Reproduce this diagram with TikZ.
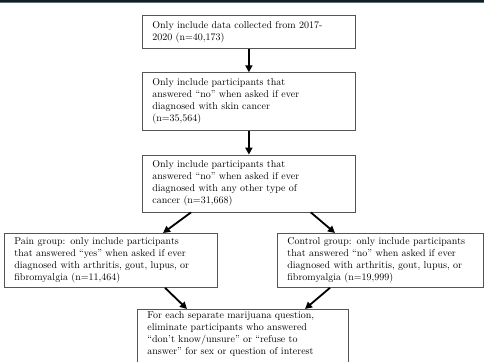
\documentclass[tikz,border=0pt]{standalone}
\usepackage{xcolor}
\definecolor{boxline}{RGB}{85,85,85}
\definecolor{topbar}{RGB}{18,30,36}
\definecolor{topedge}{RGB}{70,118,132}
\usepackage{tikz}
\usetikzlibrary{arrows.meta, positioning}

\begin{document}
\begin{tikzpicture}[
  x=1pt, y=-1pt,
  node distance=23.5pt,
  box/.style={
    draw=boxline, line width=0.8pt,
    minimum width=213pt, text width=193pt,
    inner xsep=10pt, inner ysep=4pt,
    font=\fontsize{10}{12}\selectfont, align=left,
  },
  arr/.style={-{Triangle[length=7pt,width=7pt]}, line width=1.8pt},
]
\useasboundingbox (0,0) rectangle (484,361);
\fill[topbar] (0,0) rectangle (484,2.4);
\draw[topedge, line width=0.8pt] (0,2.6) -- (484,2.6);

\node[box, anchor=north west, minimum height=33pt] (data) at (142,15)
  {Only include data collected from 2017-\\2020 (n=40,173)};
\node[box, minimum height=58pt] (skin) [below=of data]
  {Only include participants that\\answered “no” when asked if ever\\diagnosed with skin cancer\\(n=35,564)};
\node[box, minimum height=57pt] (cancer) [below=of skin]
  {Only include participants that\\answered “no” when asked if ever\\diagnosed with any other type of\\cancer (n=31,668)};
\node[box, anchor=north west, minimum height=54pt] (pain) at (4,233)
  {Pain group: only include participants\\that answered “yes” when asked if ever\\diagnosed with arthritis, gout, lupus, or\\fibromyalgia (n=11,464)};
\node[box, anchor=north west, minimum height=54pt, minimum width=206pt, text width=186pt] (control) at (277,233)
  {Control group: only include participants\\that answered “no” when asked if ever\\diagnosed with arthritis, gout, lupus, or\\fibromyalgia (n=19,999)};
% last box runs past the lower edge of the page
\node[box, draw=none, anchor=north west, inner ysep=2.5pt, minimum width=211pt, text width=191pt] (final) at (137,309)
  {For each separate marijuana question,\\eliminate participants who answered\\“don’t know/unsure” or “refuse to\\answer” for sex or question of interest};
\draw[boxline, line width=0.8pt] ([yshift=-20pt]final.south west) -- (final.north west)
  -- (final.north east) -- ([yshift=-20pt]final.south east);

\draw[arr] (data.south) -- (data.south |- skin.north);
\draw[arr] (skin.south) -- (skin.south |- cancer.north);
\draw[arr] ([xshift=49pt]cancer.south west) -- ([xshift=159pt]pain.north west);
\draw[arr] ([xshift=-45pt]cancer.south east) -- ([xshift=58pt]control.north west);
\draw[arr] ([xshift=161pt]pain.south west) -- ([xshift=50pt]final.north west);
\draw[arr] ([xshift=53pt]control.south west) -- ([xshift=168pt]final.north west);
\end{tikzpicture}
\end{document}
